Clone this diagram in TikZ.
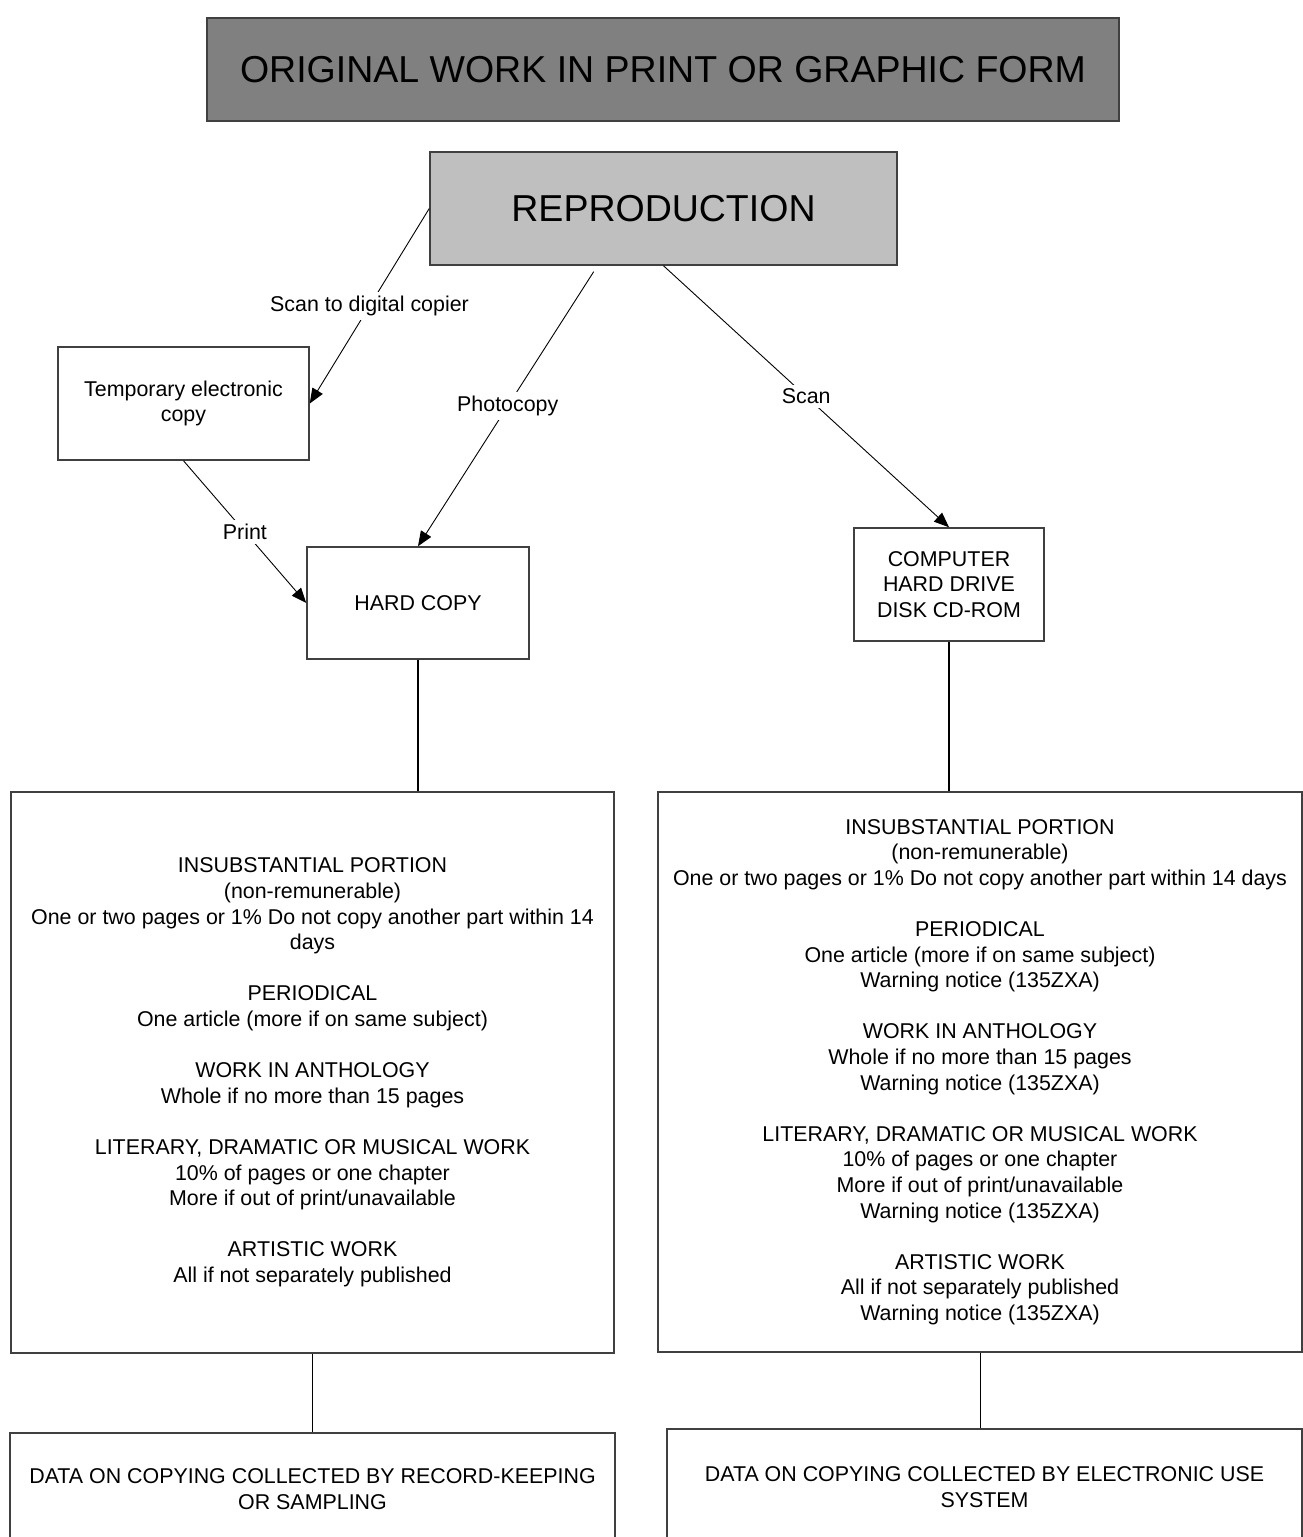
\documentclass[tikz,border=0pt]{standalone}
\usepackage{fontspec}
\setmainfont{Liberation Sans}
\usetikzlibrary{arrows.meta, calc}

\newcommand{\bigfont}{\fontsize{37.5}{45}\selectfont}
\newcommand{\smallfont}{\fontsize{21.4}{25.6}\selectfont}

\tikzset{
	box/.style={draw=black!75, line width=1.5pt, inner sep=0pt, align=center, font=\smallfont},
	lbl/.style={fill=white, inner sep=4pt, font=\smallfont},
	link/.style={line width=0.9pt, ->},
}

\begin{document}
\begin{tikzpicture}[>={Triangle[length=15pt,width=12pt]}, x=1pt, y=-1pt]
		\clip (0,0) rectangle (1303,1537);
		%top
		\node [box, fill=black!50, font=\bigfont, minimum width=912, minimum height=103] (orig) at (663,69.5) {ORIGINAL WORK IN PRINT OR GRAPHIC FORM};
		\node [box, fill=black!25, font=\bigfont, minimum width=467, minimum height=113] (repro) at (663.5,208.5) {REPRODUCTION};
		%copies
		\node [box, minimum width=251, minimum height=113] (temp) at (183.5,403.5) {Temporary electronic\\copy};
		\node [box, minimum width=222, minimum height=112] (hard) at (418,603) {HARD COPY};
		\node [box, minimum width=190, minimum height=113] (comp) at (949,584.5) {COMPUTER\\HARD DRIVE\\DISK CD-ROM};
		%rules
		\node [box, minimum width=603, minimum height=561] (printrules) at (312.5,1072.5) {INSUBSTANTIAL PORTION\\(non-remunerable)\\One or two pages or 1\% Do not copy another part within 14\\days\\[25.6pt]
			PERIODICAL\\One article (more if on same subject)\\[25.6pt]
			WORK IN ANTHOLOGY\\Whole if no more than 15 pages\\[25.6pt]
			LITERARY, DRAMATIC OR MUSICAL WORK\\10\% of pages or one chapter\\More if out of print/unavailable\\[25.6pt]
			ARTISTIC WORK\\All if not separately published};
		\node [box, minimum width=644, minimum height=560] (elecrules) at (980,1072) {INSUBSTANTIAL PORTION\\(non-remunerable)\\One or two pages or 1\% Do not copy another part within 14 days\\[25.6pt]
			PERIODICAL\\One article (more if on same subject)\\Warning notice (135ZXA)\\[25.6pt]
			WORK IN ANTHOLOGY\\Whole if no more than 15 pages\\Warning notice (135ZXA)\\[25.6pt]
			LITERARY, DRAMATIC OR MUSICAL WORK\\10\% of pages or one chapter\\More if out of print/unavailable\\Warning notice (135ZXA)\\[25.6pt]
			ARTISTIC WORK\\All if not separately published\\Warning notice (135ZXA)};
		%data
		\node [box, minimum width=605, minimum height=112] (printdata) at (312.5,1489) {DATA ON COPYING COLLECTED BY RECORD-KEEPING\\OR SAMPLING};
		\node [box, minimum width=635, minimum height=116] (elecdata) at (984.5,1487) {DATA ON COPYING COLLECTED BY ELECTRONIC USE\\SYSTEM};
		%arrows
		\draw [link] (repro.west) -- node [lbl] {Scan to digital copier} (temp.east);
		\draw [link, shorten <=7pt] ($(repro.south)+(-66,0)$) -- node [lbl] {Photocopy} (hard.north);
		\draw [link] (repro.south) -- node [lbl] {Scan} (comp.north);
		\draw [link] (temp.south) -- node [lbl] {Print} (hard.west);
		%plain lines
		\draw [line width=1.8pt] (hard.south) -- (hard.south |- printrules.north);
		\draw [line width=1.8pt] (comp.south) -- (comp.south |- elecrules.north);
		\draw [line width=0.9pt] (printrules.south) -- (printrules.south |- printdata.north);
		\draw [line width=0.9pt] (elecrules.south) -- (elecrules.south |- elecdata.north);
\end{tikzpicture}
\end{document}
